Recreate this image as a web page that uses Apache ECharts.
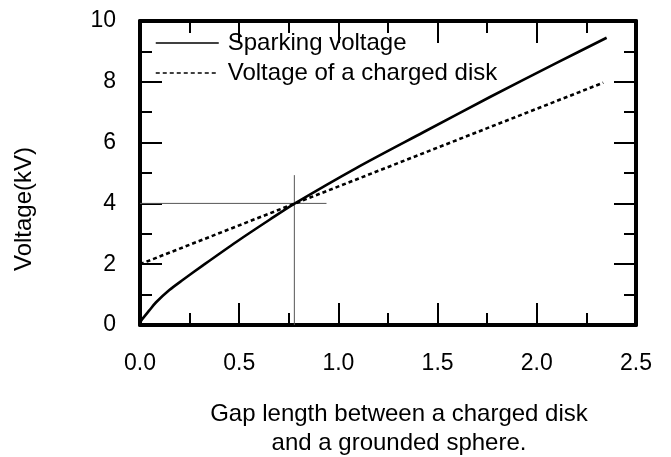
<!DOCTYPE html>
<html><head><meta charset="utf-8">
<script src="https://cdn.jsdelivr.net/npm/echarts@6/dist/echarts.min.js"></script>
<style>html,body{margin:0;padding:0;background:#fff}#c{width:671px;height:457px}</style>
</head><body><div id="c"></div>
<script>
// Sparking voltage (solid curve)
const sparkX = [0, 0.01, 0.047, 0.08, 0.148, 0.215, 0.319, 0.487, 0.655, 0.781, 1.092, 1.428, 1.764, 2.10, 2.352];
const sparkY = [0.08, 0.18, 0.48, 0.74, 1.15, 1.48, 1.97, 2.74, 3.47, 4.0, 5.17, 6.34, 7.50, 8.62, 9.45];
// Voltage of a charged disk (dashed straight line)
const diskX = [0, 2.335];
const diskY = [2.0, 7.97];
// Crosshair marking the intersection
const vLineX = [0.778, 0.778];
const vLineY = [4.93, 0];
const hLineX = [0, 0.94];
const hLineY = [4.0, 4.0];
// Axis tick labels
const xTickLabels = ['0.0', '0.5', '1.0', '1.5', '2.0', '2.5'];
const yTickLabels = ['0', '2', '4', '6', '8', '10'];
const seriesNames = ['Sparking voltage', 'Voltage of a charged disk'];

const zip = (a, b) => a.map((v, i) => [v, b[i]]);
const FONT = 'Liberation Sans, Arial, sans-serif';

const axisCommon = {
  axisLine: { show: true, onZero: false, lineStyle: { color: '#000', width: 4 } },
  axisTick: { show: true, inside: true, length: 22, lineStyle: { color: '#000', width: 2 } },
  minorTick: { show: true, splitNumber: 2, length: 12, lineStyle: { color: '#000', width: 2 } },
  splitLine: { show: false }
};

const chart = echarts.init(document.getElementById('c'), null, { renderer: 'canvas' });
chart.setOption({
  backgroundColor: '#fff',
  animation: false,
  textStyle: { fontFamily: FONT },
  grid: { left: 140, right: 35, top: 21, bottom: 132, containLabel: false, outerBoundsMode: 'none' },
  legend: {
    data: seriesNames,
    orient: 'vertical',
    left: 155, top: 31,
    padding: 0,
    itemWidth: 63, itemHeight: 14, itemGap: 6,
    lineStyle: { width: 1.5 },
    itemStyle: { color: 'rgba(0,0,0,0)', borderWidth: 0, opacity: 0 },
    textStyle: { fontSize: 24, color: '#000', fontFamily: FONT, lineHeight: 24, padding: [0, 0, 0, 4] }
  },
  xAxis: [
    Object.assign({}, axisCommon, {
      type: 'value', position: 'bottom', min: 0, max: 2.5, interval: 0.5,
      axisLabel: { fontSize: 23, color: '#000', margin: 27, fontFamily: FONT,
        formatter: v => xTickLabels[Math.round(v / 0.5)] },
      name: 'Gap length between a charged disk\nand a grounded sphere.',
      nameLocation: 'middle', nameGap: 75,
      nameTextStyle: { fontSize: 24, color: '#000', lineHeight: 29, fontFamily: FONT, padding: [0, 0, 0, 22] }
    }),
    Object.assign({}, axisCommon, {
      type: 'value', position: 'top', min: 0, max: 2.5, interval: 0.5,
      axisLabel: { show: false }
    })
  ],
  yAxis: [
    Object.assign({}, axisCommon, {
      type: 'value', position: 'left', min: 0, max: 10, interval: 2,
      axisLabel: { fontSize: 23, color: '#000', margin: 24, fontFamily: FONT,
        formatter: v => yTickLabels[Math.round(v / 2)] },
      name: 'Voltage(kV)', nameLocation: 'middle', nameGap: 104,
      nameTextStyle: { fontSize: 24, color: '#000', fontFamily: FONT, padding: [0, 72, 0, 0] }
    }),
    Object.assign({}, axisCommon, {
      type: 'value', position: 'right', min: 0, max: 10, interval: 2,
      axisLabel: { show: false }
    })
  ],
  series: [
    {
      name: 'crossV', type: 'line', data: zip(vLineX, vLineY), symbol: 'none', silent: true,
      lineStyle: { color: '#555', width: 1 }, z: 1
    },
    {
      name: 'crossH', type: 'line', data: zip(hLineX, hLineY), symbol: 'none', silent: true,
      lineStyle: { color: '#555', width: 1 }, z: 1
    },
    {
      name: seriesNames[0], type: 'line', data: zip(sparkX, sparkY), symbol: 'none',
      smooth: 0.3,
      itemStyle: { color: '#000' },
      lineStyle: { color: '#000', width: 2.6 }, z: 3
    },
    {
      name: seriesNames[1], type: 'line', data: zip(diskX, diskY), symbol: 'none',
      itemStyle: { color: '#000' },
      lineStyle: { color: '#000', width: 2.6, type: [4, 3] }, z: 3
    }
  ]
});
</script></body></html>
